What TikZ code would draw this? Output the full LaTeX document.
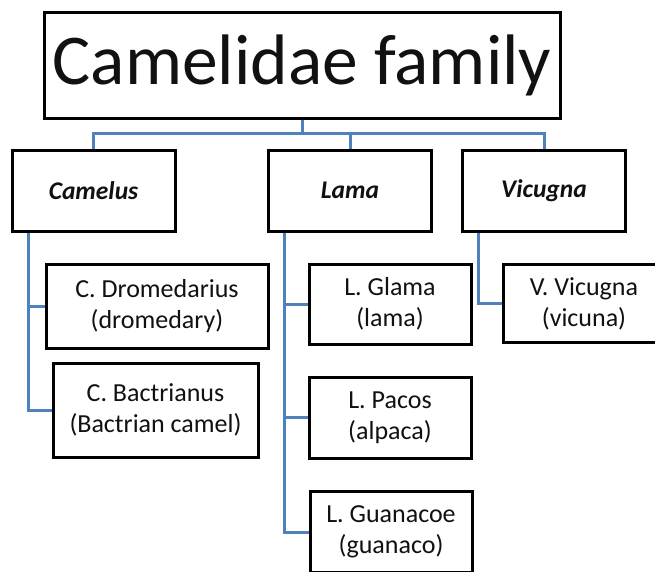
\documentclass[tikz,border=0pt]{standalone}
\usepackage{fontspec}
\setmainfont{Carlito}
\usepackage{tikz}
\usetikzlibrary{calc,positioning}
\definecolor{cink}{HTML}{111111}
\definecolor{clink}{HTML}{4F81BD}

\begin{document}
\begin{tikzpicture}[x=1pt, y=-1pt,
    box/.style={draw=black, line width=3pt, fill=white, inner sep=0pt, align=center, text=cink},
    fam/.style={box, minimum width=516pt, minimum height=106pt, font=\fontsize{71.5}{84}\selectfont},
    genus/.style={box, minimum width=163pt, minimum height=81pt, font=\fontsize{25.5}{30}\selectfont\bfseries\itshape},
    sp/.style={box, minimum height=81pt, font=\fontsize{26}{31}\selectfont},
    link/.style={draw=clink, line width=3pt}]
  \useasboundingbox (0,0) rectangle (655,571);

  \node[fam] (fam) at (302,65) {Camelidae family};

  \node[genus] (camelus) at (93.5,190.5) {Camelus};
  \node[genus] (lama) at (350,190.5) {Lama};
  \node[genus] (vicugna) at (544,190.5) {Vicugna};

  \node[sp, minimum width=222pt, minimum height=84pt] (drom) at (157,306) {C. Dromedarius\\(dromedary)};
  \node[sp, minimum width=205pt, minimum height=94pt] (bact) at (155.5,410) {C. Bactrianus\\(Bactrian camel)};

  \node[sp, minimum width=162pt, minimum height=80pt] (glama) at (390,304) {L. Glama\\(lama)};
  \node[sp, minimum width=162pt] (pacos) at (390,417.5) {L. Pacos\\(alpaca)};
  \node[sp, minimum width=162pt] (guan) at (391,532) {L. Guanacoe\\(guanaco)};

  \node[sp, minimum width=162pt, minimum height=78pt] (vicuna) at (584,303.5) {V. Vicugna\\(vicuna)};

  % family to genera
  \draw[link] (fam.south) -- ++(0,14) -| (camelus.north);
  \draw[link] (fam.south) -- ++(0,14) -| (lama.north);
  \draw[link] (fam.south) -- ++(0,14) -| (vicugna.north);

  % genera to species
  \draw[link] ([xshift=18pt]camelus.south west) |- (drom.west);
  \draw[link] ([xshift=18pt]camelus.south west) |- (bact.west);
  \draw[link] ([xshift=17.5pt]lama.south west) |- (glama.west);
  \draw[link] ([xshift=17.5pt]lama.south west) |- (pacos.west);
  \draw[link] ([xshift=17.5pt]lama.south west) |- (guan.west);
  \draw[link] ([xshift=17pt]vicugna.south west) |- (vicuna.west);
\end{tikzpicture}
\end{document}
